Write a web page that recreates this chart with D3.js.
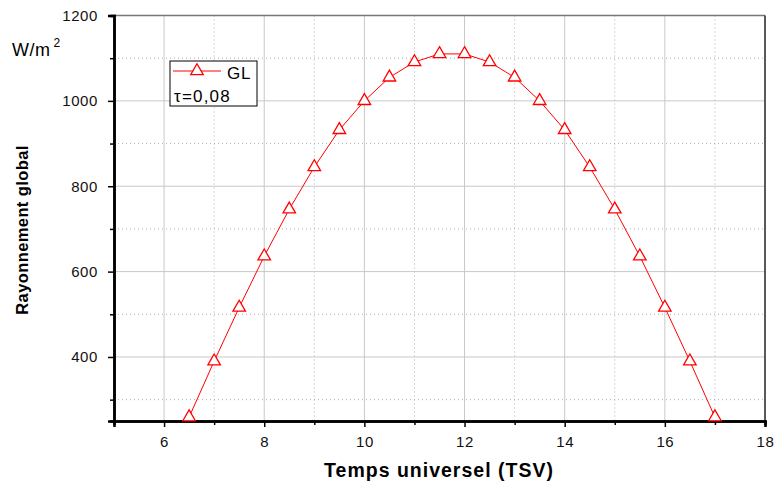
<!DOCTYPE html>
<html>
<head>
<meta charset="utf-8">
<script src="https://cdn.jsdelivr.net/npm/d3@7"></script>
<style>
  body { margin: 0; background: #fff; }
  text { font-family: "Liberation Sans", Arial, sans-serif; }
</style>
</head>
<body>
<div id="chart"></div>
<script>
// heures (TSV) et rayonnement global GL
const hours = [6.5, 7, 7.5, 8, 8.5, 9, 9.5, 10, 10.5, 11, 11.5, 12, 12.5, 13, 13.5, 14, 14.5, 15, 15.5, 16, 16.5, 17];
const glValues = [259, 390, 516, 636, 746, 845, 932, 1000, 1055, 1091, 1110, 1110, 1091, 1055, 1000, 932, 845, 746, 636, 516, 390, 259];
const xTicks = [6, 8, 10, 12, 14, 16, 18];
const xMinor = [5, 7, 9, 11, 13, 15, 17];
const yTicks = [400, 600, 800, 1000, 1200];
const yMinor = [300, 500, 700, 900, 1100];

const width = 774;
const height = 486;

const svg = d3.select("#chart")
  .append("svg")
  .attr("width", width)
  .attr("height", height);

const x = d3.scaleLinear().domain([5, 18]).range([114, 765]);
const y = d3.scaleLinear().domain([250, 1200]).range([421, 15.5]);

const pLeft = x.range()[0], pRight = x.range()[1];
const pTop = y.range()[1], pBottom = y.range()[0];

// grille
const grid = svg.append("g");
grid.selectAll(".gx").data(xTicks.slice(0, -1))
  .enter().append("line")
  .attr("x1", d => x(d)).attr("x2", d => x(d))
  .attr("y1", pTop).attr("y2", pBottom)
  .attr("stroke", "#c8c8c8").attr("stroke-width", 1);
grid.selectAll(".gxm").data(xMinor.slice(1))
  .enter().append("line")
  .attr("x1", d => x(d)).attr("x2", d => x(d))
  .attr("y1", pTop).attr("y2", pBottom)
  .attr("stroke", "#b0b0b0").attr("stroke-width", 1)
  .attr("stroke-dasharray", "1,3");
grid.selectAll(".gy").data(yTicks.slice(0, -1))
  .enter().append("line")
  .attr("x1", pLeft).attr("x2", pRight)
  .attr("y1", d => y(d)).attr("y2", d => y(d))
  .attr("stroke", "#c8c8c8").attr("stroke-width", 1);
grid.selectAll(".gym").data(yMinor)
  .enter().append("line")
  .attr("x1", pLeft).attr("x2", pRight)
  .attr("y1", d => y(d)).attr("y2", d => y(d))
  .attr("stroke", "#b0b0b0").attr("stroke-width", 1)
  .attr("stroke-dasharray", "1,3");

// cadre haut et droite
svg.append("line")
  .attr("x1", pLeft).attr("x2", pRight).attr("y1", pTop).attr("y2", pTop)
  .attr("stroke", "#777").attr("stroke-width", 1.5);
svg.append("line")
  .attr("x1", pRight).attr("x2", pRight).attr("y1", pTop).attr("y2", pBottom)
  .attr("stroke", "#222").attr("stroke-width", 1.5);

// axes
const xAxis = d3.axisBottom(x).tickValues(xTicks).tickSize(6).tickPadding(9).tickFormat(d3.format("d"));
const xAxisMinor = d3.axisBottom(x).tickValues(xMinor).tickSize(4).tickFormat("");
const yAxis = d3.axisLeft(y).tickValues(yTicks).tickSize(6).tickPadding(10).tickFormat(d3.format("d"));
const yAxisMinor = d3.axisLeft(y).tickValues(yMinor).tickSize(4).tickFormat("");

function styleAxis(g) {
  g.select(".domain").attr("stroke", "#000").attr("stroke-width", 2.5);
  g.selectAll(".tick line").attr("stroke", "#000").attr("stroke-width", 1.5);
  g.selectAll(".tick text").attr("fill", "#111")
    .style("font-size", "15px").style("letter-spacing", "0.6px");
}

svg.append("g").attr("transform", `translate(0,${pBottom})`).call(xAxisMinor).call(styleAxis);
svg.append("g").attr("transform", `translate(0,${pBottom})`).call(xAxis).call(styleAxis);
svg.append("g").attr("transform", `translate(${pLeft},0)`).call(yAxisMinor).call(styleAxis);
svg.append("g").attr("transform", `translate(${pLeft},0)`).call(yAxis).call(styleAxis);

// courbe
const line = d3.line().x((d, i) => x(hours[i])).y(d => y(d));
svg.append("path")
  .datum(glValues)
  .attr("d", line)
  .attr("fill", "none")
  .attr("stroke", "#ff0000")
  .attr("stroke-width", 1);

const tri = d3.symbol().type(d3.symbolTriangle).size(68);
svg.selectAll(".mk").data(glValues)
  .enter().append("path")
  .attr("d", tri)
  .attr("transform", (d, i) => `translate(${x(hours[i])},${y(d)})`)
  .attr("fill", "#fff")
  .attr("stroke", "#ff0000")
  .attr("stroke-width", 1.3);

// légende
const leg = svg.append("g").attr("transform", "translate(170,61)");
leg.append("rect")
  .attr("width", 87).attr("height", 45)
  .attr("fill", "#fff").attr("stroke", "#000").attr("stroke-width", 1);
leg.append("line")
  .attr("x1", 3).attr("x2", 51).attr("y1", 10).attr("y2", 10)
  .attr("stroke", "#ff0000").attr("stroke-width", 1);
leg.append("path")
  .attr("d", tri)
  .attr("transform", "translate(27,10)")
  .attr("fill", "#fff").attr("stroke", "#ff0000").attr("stroke-width", 1.3);
leg.append("text")
  .attr("x", 57).attr("y", 18)
  .style("font-size", "17px").style("letter-spacing", "0.8px").text("GL");
leg.append("text")
  .attr("x", 4).attr("y", 41)
  .style("font-size", "17px").style("letter-spacing", "1.2px").text("τ=0,08");

// titres
const wm = svg.append("text").attr("x", 12).attr("y", 56)
  .style("font-size", "18px").style("letter-spacing", "0.5px");
wm.append("tspan").text("W/m");
wm.append("tspan").attr("dx", 3).attr("dy", -9).style("font-size", "12px").text("2");

svg.append("text")
  .attr("transform", "translate(28,230) rotate(-90)")
  .attr("text-anchor", "middle")
  .style("font-size", "16.5px").style("font-weight", "bold")
  .style("letter-spacing", "0.4px")
  .text("Rayonnement global");

svg.append("text")
  .attr("x", 439).attr("y", 477)
  .attr("text-anchor", "middle")
  .style("font-size", "19.5px").style("font-weight", "bold")
  .style("letter-spacing", "1px")
  .text("Temps universel (TSV)");
</script>
</body>
</html>
